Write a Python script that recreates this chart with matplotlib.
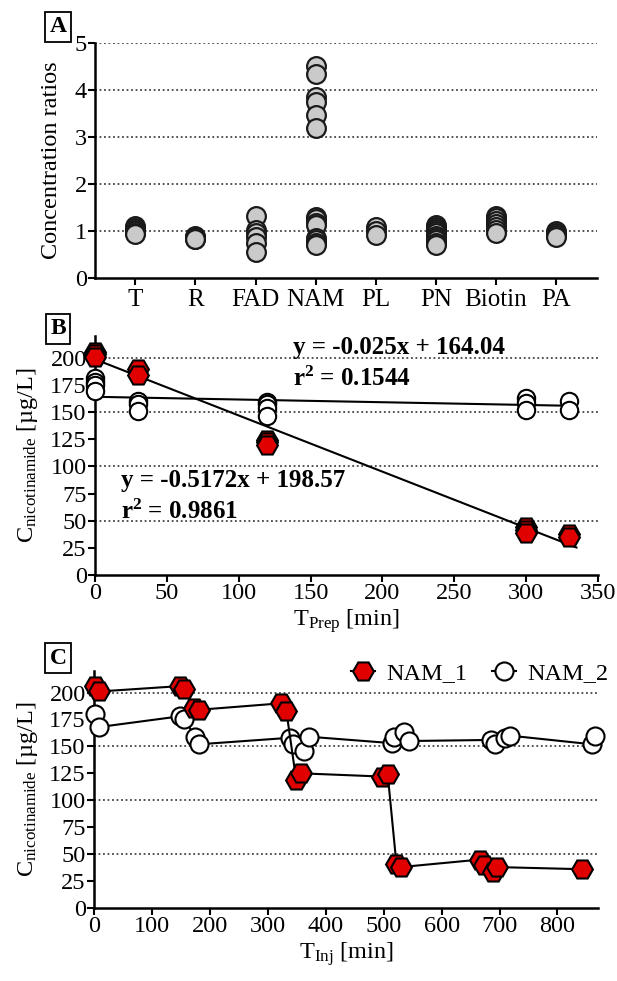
import numpy as np
import matplotlib.pyplot as plt
from matplotlib.lines import Line2D

plt.rcParams['font.family'] = ['Liberation Serif', 'DejaVu Serif']
plt.rcParams['mathtext.fontset'] = 'custom'
plt.rcParams['mathtext.rm'] = 'Liberation Serif'
plt.rcParams['mathtext.it'] = 'Liberation Serif:italic'
plt.rcParams['mathtext.bf'] = 'Liberation Serif:bold'

# panel A - concentration ratios per vitamin
categories = ['T', 'R', 'FAD', 'NAM', 'PL', 'PN', 'Biotin', 'PA']
ratios = {
    'T': [1.11, 1.07, 1.03, 1.0, 0.96, 0.93],
    'R': [0.90, 0.87, 0.84, 0.82],
    'FAD': [1.31, 1.02, 0.95, 0.88, 0.74, 0.56],
    'NAM': [4.52, 4.35, 3.85, 3.75, 3.47, 3.2, 1.3, 1.25, 1.17, 1.12, 0.85, 0.8, 0.75, 0.7],
    'PL': [1.09, 1.0, 0.92],
    'PN': [1.12, 1.08, 1.04, 1.0, 0.95, 0.9, 0.86, 0.8, 0.75, 0.7],
    'Biotin': [1.32, 1.28, 1.22, 1.15, 1.08, 1.02, 0.96],
    'PA': [1.0, 0.96, 0.92, 0.88],
}

# panel B - concentration vs preparation time
prep_t1 = [0, 0, 0, 30, 30, 120, 120, 120, 300, 300, 300, 330, 330]
prep_c1 = [205, 203, 201, 190, 184, 124, 122, 120, 44, 41, 39, 38, 35]
prep_t2 = [0, 0, 0, 0, 30, 30, 30, 120, 120, 120, 120, 300, 300, 300, 330, 330]
prep_c2 = [181, 178, 175, 169, 160, 157, 151, 159, 157, 154, 146, 163, 158, 152, 160, 152]
fit1 = (-0.5172, 198.57)
fit2 = (-0.025, 164.04)

# panel C - concentration vs injection time
inj_t1 = [1, 9, 149, 156, 173, 181, 323, 332, 349, 358, 498, 507, 522, 530, 667, 673, 688, 695, 843]
inj_c1 = [206, 201, 206, 203, 186, 184, 190, 183, 119, 125, 122, 124, 41, 38, 45, 40, 33, 38, 36]
inj_t2 = [1, 9, 149, 156, 175, 182, 338, 343, 363, 371, 515, 518, 535, 543, 686, 693, 710, 718, 859, 864]
inj_c2 = [180, 168, 178, 175, 159, 152, 158, 152, 146, 159, 153, 159, 163, 155, 156, 152, 158, 160, 152, 160]

W, H = 617, 981
fig = plt.figure(figsize=(W / 100, H / 100), dpi=100)


def px_axes(l, r, t, b):
    return fig.add_axes([l / W, 1 - b / H, (r - l) / W, (b - t) / H])


def style(ax, grid_vals):
    for s in ['top', 'right']:
        ax.spines[s].set_visible(False)
    for s in ['left', 'bottom']:
        ax.spines[s].set_linewidth(1.8)
    ax.tick_params(direction='out', length=5, width=1.5, labelsize=17.5, pad=1)
    for g in grid_vals:
        ax.axhline(g, color='#444444', lw=1.3, ls=(0, (1, 1.5)), zorder=0)


def panel_label(txt, x, y):
    fig.text(x / W, 1 - y / H, txt, fontsize=17, fontweight='bold', ha='center', va='center',
             bbox=dict(boxstyle='square,pad=0.18', fc='white', ec='black', lw=1.3))


gray = '#cacaca'
edge = '#1a1a1a'
red = '#e00000'

# ---- A
axA = px_axes(95, 597, 43, 278)
style(axA, [1, 2, 3, 4, 5])
for i, c in enumerate(categories):
    vals = ratios[c]
    axA.plot([i + 1] * len(vals), vals, 'o', ms=13.5, mfc=gray, mec=edge, mew=1.6,
             ls='none', clip_on=False, zorder=3)
axA.set_xlim(0.33, 8.68)
axA.set_ylim(0, 5)
axA.set_xticks(range(1, len(categories) + 1))
axA.set_xticklabels(categories, fontsize=18)
axA.set_yticks([0, 1, 2, 3, 4, 5])
axA.tick_params(axis='x', pad=3)
axA.set_ylabel('Concentration ratios', fontsize=17.5)
axA.yaxis.set_label_coords(-0.066, 0.5)
panel_label('A', 58, 27)

# ---- B
axB = px_axes(95, 598, 336, 575)
style(axB, [50, 100, 150, 200])
xs = np.array([0, 335])
axB.plot(xs, fit1[0] * xs + fit1[1], color='black', lw=1.5, zorder=2)
axB.plot(xs, fit2[0] * xs + fit2[1], color='black', lw=1.5, zorder=2)
axB.plot(prep_t2, prep_c2, 'o', ms=12.5, mfc='white', mec='black', mew=1.5, ls='none',
         clip_on=False, zorder=3)
axB.plot(prep_t1, prep_c1, 'H', ms=15, mfc=red, mec='black', mew=1.5, ls='none',
         clip_on=False, zorder=4)
axB.set_xlim(0, 350)
axB.set_ylim(0, 220)
axB.set_xticks(range(0, 351, 50))
axB.set_yticks(range(0, 201, 25))
axB.set_xlabel(r'T$_{\rm Prep}$ [min]', fontsize=17.5, labelpad=2)
axB.set_ylabel(r'C$_{\rm nicotinamide}$ [µg/L]', fontsize=17.5)
axB.yaxis.set_label_coords(-0.109, 0.5)
axB.text(138, 203, r'y = -0.025x + 164.04', fontsize=18, fontweight='bold')
axB.text(138, 174, r'r$^{\mathbf{2}}$ = 0.1544', fontsize=18, fontweight='bold')
axB.text(18, 81, r'y = -0.5172x + 198.57', fontsize=18, fontweight='bold')
axB.text(18, 52, r'r$^{\mathbf{2}}$ = 0.9861', fontsize=18, fontweight='bold')
panel_label('B', 58, 329)

# ---- C
axC = px_axes(94, 598, 671, 908)
style(axC, [50, 100, 150, 200])
axC.plot(inj_t2, inj_c2, '-o', color='black', lw=1.5, ms=13, mfc='white', mec='black',
         mew=1.5, clip_on=False, zorder=3)
axC.plot(inj_t1, inj_c1, '-H', color='black', lw=1.5, ms=15, mfc=red, mec='black',
         mew=1.5, clip_on=False, zorder=4)
axC.set_xlim(0, 870)
axC.set_ylim(0, 220)
axC.set_xticks(range(0, 801, 100))
axC.set_yticks(range(0, 201, 25))
axC.set_xlabel(r'T$_{\rm Inj}$ [min]', fontsize=17.5, labelpad=2)
axC.set_ylabel(r'C$_{\rm nicotinamide}$ [µg/L]', fontsize=17.5)
axC.yaxis.set_label_coords(-0.107, 0.5)
handles = [
    Line2D([], [], marker='H', ms=15, mfc=red, mec='black', mew=1.5, color='black', lw=1.5),
    Line2D([], [], marker='o', ms=13, mfc='white', mec='black', mew=1.5, color='black', lw=1.5),
]
fig.legend(handles, ['NAM_1', 'NAM_2'], loc='center left', bbox_to_anchor=(351 / W, 1 - 673 / H),
           ncol=2, frameon=False, fontsize=17.5, handlelength=1.0, handletextpad=0.45,
           columnspacing=1.0, borderaxespad=0, borderpad=0)
panel_label('C', 58, 658)

fig.savefig('out.png', dpi=100)
